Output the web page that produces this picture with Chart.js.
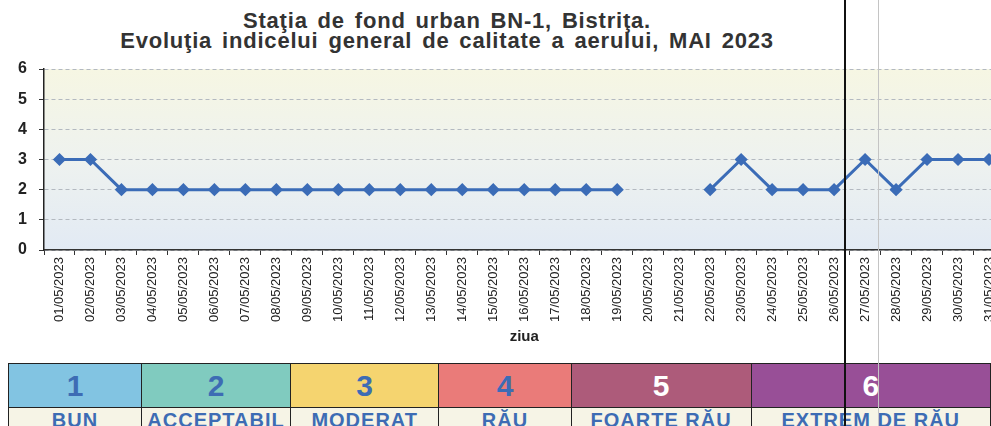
<!DOCTYPE html>
<html lang="ro">
<head>
<meta charset="UTF-8">
<title>Staţia de fond urban BN-1, Bistriţa</title>
<style>
  html, body { margin: 0; padding: 0; background: #fff; overflow: hidden; }
  body { width: 991px; height: 426px; position: relative; font-family: "Liberation Sans", Arial, sans-serif; }
  #titlu { position: absolute; left: 0; top: 11px; width: 894px; text-align: center; font-weight: bold; font-size: 22px; line-height: 20px; letter-spacing: 0.8px; word-spacing: 3px; color: #333; }
  #wrap { position: absolute; left: 0; top: 0; width: 1012px; height: 350px; }
  #scala { position: absolute; left: 8px; top: 363px; border-collapse: collapse; }
  #scala td { border: 1.5px solid #222; padding: 0; text-align: center; font-weight: bold; }
  #scala tr.nr td { height: 43px; font-size: 30px; color: #3d6cb4; }
  #scala tr.et td { height: 24px; font-size: 20px; letter-spacing: 1px; color: #3d6cb4; background: #f6f4e6; vertical-align: top; padding-top: 1px; }
  .linie { position: absolute; top: 0; height: 426px; }
</style>
</head>
<body>
<div id="titlu">Staţia de fond urban BN-1, Bistriţa.<br>Evoluţia indicelui general de calitate a aerului, MAI 2023</div>
<div id="wrap"><canvas id="chart"></canvas></div>

<table id="scala">
  <tr class="nr">
    <td style="width:133px;background:#82c4e2">1</td>
    <td style="width:148px;background:#80cbbf">2</td>
    <td style="width:148px;background:#f5d46f">3</td>
    <td style="width:132px;background:#ea7b79">4</td>
    <td style="width:180px;background:#ad5b7a;color:#fff">5</td>
    <td style="width:240px;background:#984f97;color:#fff">6</td>
  </tr>
  <tr class="et">
    <td>BUN</td><td>ACCEPTABIL</td><td>MODERAT</td><td>RĂU</td><td>FOARTE RĂU</td><td>EXTREM DE RĂU</td>
  </tr>
</table>

<div class="linie" style="left:844px;width:2px;background:#111"></div>
<div class="linie" style="left:878px;width:1px;background:#c4c4c4"></div>

<script src="https://cdn.jsdelivr.net/npm/chart.js"></script>
<script>
  // zilele lunii mai 2023
  const zile = [
    '01/05/2023','02/05/2023','03/05/2023','04/05/2023','05/05/2023','06/05/2023','07/05/2023','08/05/2023',
    '09/05/2023','10/05/2023','11/05/2023','12/05/2023','13/05/2023','14/05/2023','15/05/2023','16/05/2023',
    '17/05/2023','18/05/2023','19/05/2023','20/05/2023','21/05/2023','22/05/2023','23/05/2023','24/05/2023',
    '25/05/2023','26/05/2023','27/05/2023','28/05/2023','29/05/2023','30/05/2023','31/05/2023'
  ];
  // indicele general (null = lipsa date)
  const indice = [3, 3, 2, 2, 2, 2, 2, 2, 2, 2, 2, 2, 2, 2, 2, 2, 2, 2, 2, null, null, 2, 3, 2, 2, 2, 3, 2, 3, 3, 3];
  const yMin = 0, yMax = 6, yPas = 1;

  // fundal zona grafic: galbui sus, albastrui jos
  const fundal = {
    id: 'fundal',
    beforeDraw(chart) {
      const a = chart.chartArea, ctx = chart.ctx;
      const g = ctx.createLinearGradient(0, a.top, 0, a.bottom);
      g.addColorStop(0, '#f6f6e3');
      g.addColorStop(0.5, '#eef2ef');
      g.addColorStop(1, '#e2eaf4');
      ctx.save();
      ctx.fillStyle = g;
      ctx.fillRect(a.left, a.top, a.right - a.left, a.bottom - a.top);
      ctx.restore();
    }
  };

  new Chart(document.getElementById('chart'), {
    type: 'line',
    data: {
      labels: zile,
      datasets: [{
        data: indice,
        borderColor: '#3b6cb7',
        backgroundColor: '#3b6cb7',
        borderWidth: 3,
        pointStyle: 'rectRot',
        pointRadius: 4.5,
        spanGaps: false,
        tension: 0
      }]
    },
    options: {
      responsive: true,
      maintainAspectRatio: false,
      animation: false,
      layout: { padding: { top: 69, right: 2, left: 0, bottom: 0 } },
      plugins: { legend: { display: false }, tooltip: { enabled: false } },
      scales: {
        x: {
          offset: true,
          afterFit: s => { s.height = 100; },
          grid: { drawOnChartArea: false, drawTicks: true, tickLength: 5, tickColor: '#333', offset: true },
          border: { color: '#333', width: 1.5 },
          ticks: { minRotation: 90, maxRotation: 90, autoSkip: false, padding: 2, color: '#222',
                   font: { family: 'Liberation Sans', size: 13 } },
          title: { display: true, text: 'ziua', color: '#222', padding: { top: 4 },
                   font: { family: 'Liberation Sans', size: 15, weight: 'bold' } }
        },
        y: {
          min: yMin, max: yMax,
          afterFit: s => { s.width = 44; },
          grid: { color: '#b3b9c0', tickColor: '#333', tickLength: 5, lineWidth: 1 },
          border: { color: '#222', width: 1.5, dash: [4, 3] },
          ticks: { stepSize: yPas, padding: 12, color: '#222',
                   font: { family: 'Liberation Sans', size: 16, weight: 'bold' } }
        }
      }
    },
    plugins: [fundal]
  });
</script>
</body>
</html>
